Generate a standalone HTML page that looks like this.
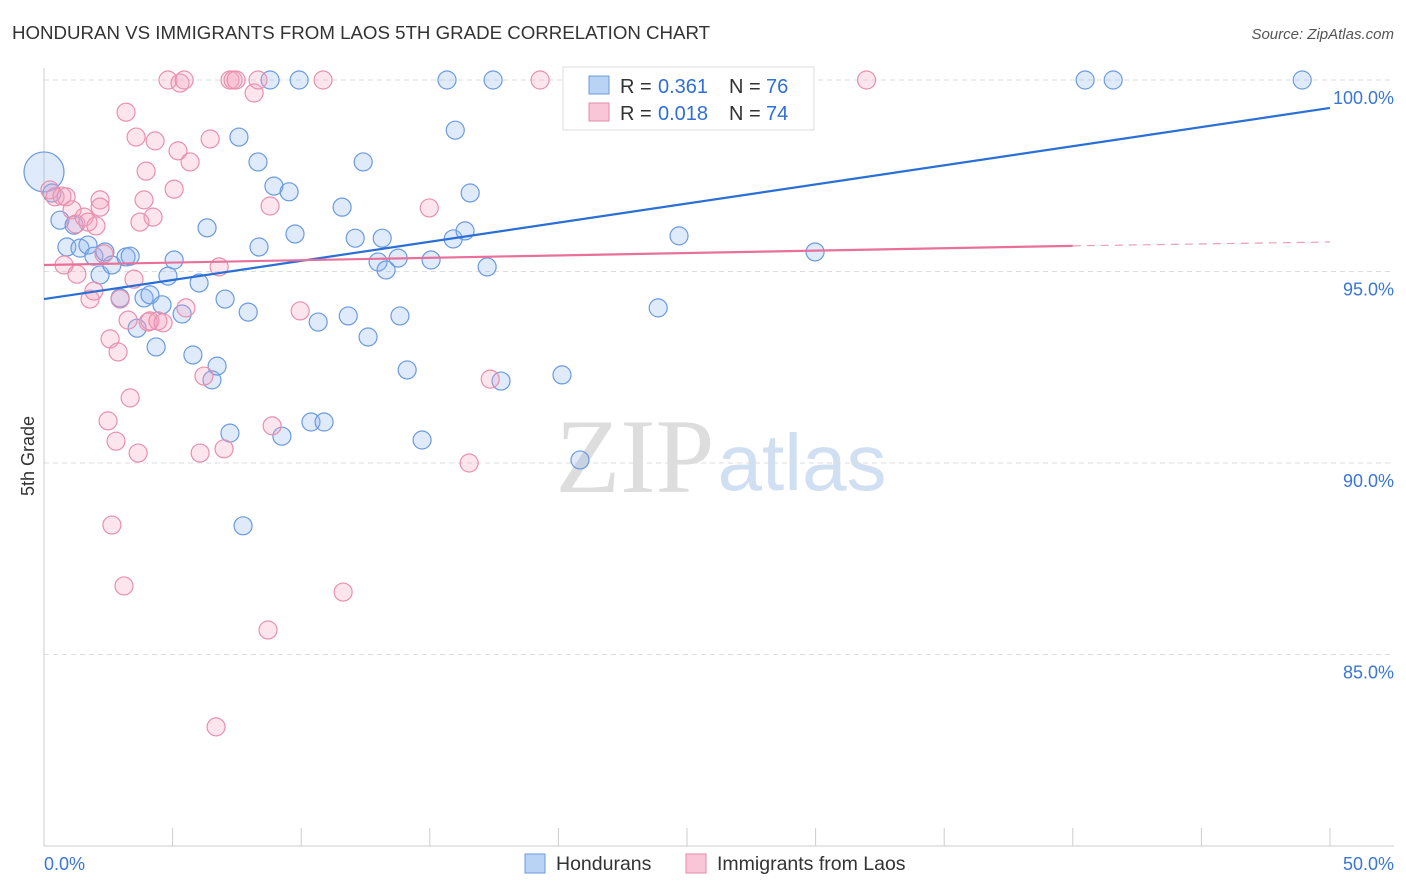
<!DOCTYPE html>
<html><head><meta charset="utf-8"><style>
body{margin:0;background:#fff;font-family:"Liberation Sans",sans-serif;}
</style></head><body>
<svg id="chart" width="1406" height="892" xmlns="http://www.w3.org/2000/svg" style="display:block">
<text x="12" y="39" font-size="18.7" fill="#333">HONDURAN VS IMMIGRANTS FROM LAOS 5TH GRADE CORRELATION CHART</text>
<text x="1394" y="39" font-size="15" fill="#555" font-style="italic" text-anchor="end">Source: ZipAtlas.com</text>
<text x="34" y="456" font-size="18" fill="#333" text-anchor="middle" transform="rotate(-90 34 456)">5th Grade</text>
<text x="635" y="492" font-size="106" fill="#ddd" font-family="Liberation Serif,serif" text-anchor="middle">ZIP</text>
<text x="802" y="490" font-size="80" fill="#d0dff2" text-anchor="middle">atlas</text>
<g id="grid"></g><g id="axes"></g><g id="pts"></g><g id="lines"></g>
<g>
<rect x="563" y="67" width="251" height="63" fill="#fff" stroke="#ddd"/>
<rect x="589" y="76" width="20" height="18" fill="#b9d3f5" stroke="#6a9ae0"/>
<text x="620" y="93" font-size="20" fill="#333">R =</text>
<text x="658" y="93" font-size="20" fill="#2f6fd6">0.361</text>
<text x="729" y="93" font-size="20" fill="#333">N =</text>
<text x="766" y="93" font-size="20" fill="#2f6fd6">76</text>
<rect x="589" y="103" width="20" height="18" fill="#f8c6d6" stroke="#e88aa8"/>
<text x="620" y="120" font-size="20" fill="#333">R =</text>
<text x="658" y="120" font-size="20" fill="#2f6fd6">0.018</text>
<text x="729" y="120" font-size="20" fill="#333">N =</text>
<text x="766" y="120" font-size="20" fill="#2f6fd6">74</text>
</g>
<g>
<rect x="525" y="854" width="20" height="19" fill="#b9d3f5" stroke="#6a9ae0"/>
<text x="556" y="870" font-size="19.5" fill="#333">Hondurans</text>
<rect x="686" y="854" width="20" height="19" fill="#f8c6d6" stroke="#e88aa8"/>
<text x="717" y="870" font-size="19.5" fill="#333">Immigrants from Laos</text>
</g>
</svg>
<script>
const xTicks=[0,5,10,15,20,25,30,35,40,45,50];
const yTicks=[85,90,95,100];
const yTickLabels=["85.0%","90.0%","95.0%","100.0%"];
const blueX=[0,0.31,0.62,0.89,1.17,1.40,1.71,1.94,2.18,2.37,2.64,2.96,3.19,3.35,3.62,3.89,4.12,4.36,4.59,4.82,5.06,5.37,5.79,6.03,6.34,6.53,6.73,7.04,7.23,7.58,7.74,7.94,8.32,8.36,8.79,8.94,9.25,9.53,9.76,9.92,10.38,10.66,10.89,11.59,11.83,12.10,12.41,12.60,12.99,13.15,13.30,13.77,13.84,14.12,14.70,15.05,15.67,15.91,15.99,16.37,16.57,17.23,17.46,17.77,20.14,20.84,23.88,24.69,25.04,28.23,29.98,40.48,41.57,48.92];
const blueY=[97.60,97.05,96.34,95.64,96.21,95.61,95.69,95.40,94.91,95.51,95.17,94.31,95.38,95.40,93.52,94.31,94.39,93.03,94.13,94.88,95.30,93.89,92.82,94.70,96.14,92.17,92.53,94.28,90.78,98.51,88.36,93.94,97.86,95.64,100,97.23,90.70,97.08,95.98,100,91.07,93.68,91.07,96.68,93.84,95.87,97.86,93.29,95.25,95.87,95.04,95.35,93.84,92.43,90.60,95.30,100,95.85,98.69,96.06,97.05,95.12,100,92.14,92.30,90.08,94.05,95.93,100,100,95.51,100,100,100];
const pinkX=[0.23,0.43,0.70,0.86,0.78,1.09,1.24,1.28,1.56,1.71,1.79,1.94,2.02,2.18,2.18,2.33,2.49,2.57,2.64,2.80,2.88,2.96,3.11,3.19,3.27,3.35,3.50,3.58,3.66,3.73,3.89,3.97,4.05,4.12,4.24,4.32,4.43,4.63,4.82,5.06,5.21,5.29,5.45,5.52,5.68,6.07,6.22,6.46,6.69,6.81,7.00,7.23,7.35,7.47,8.17,8.32,8.71,8.79,8.87,9.96,10.85,11.63,14.98,16.53,17.35,19.29,31.98];
const pinkY=[97.13,96.95,96.97,96.95,95.17,96.61,96.24,94.93,96.42,96.29,94.28,94.49,96.19,96.87,96.68,95.46,91.10,93.24,88.38,90.57,92.90,94.28,86.79,99.16,93.73,91.70,94.80,98.51,90.26,96.29,96.87,97.62,93.68,93.71,96.42,98.41,93.71,93.66,100,97.15,98.15,99.92,100,94.05,97.86,90.26,92.27,98.46,83.11,95.12,90.37,100,100,100,99.66,100,85.64,96.71,90.97,93.97,100,86.63,96.66,90.00,92.19,100,100];
const blueTrend=[[0,94.28],[50,99.27]];
const pinkTrend=[[0,95.17],[40,95.67]];
const pinkTrendExt=[[40,95.67],[50,95.77]];
const NS="http://www.w3.org/2000/svg";
const xs=v=>44+v/50*1286;
const ys=v=>80+(100-v)*38.3;
function mk(tag,attrs,parent){const e=document.createElementNS(NS,tag);for(const k in attrs)e.setAttribute(k,attrs[k]);document.getElementById(parent).appendChild(e);return e;}
yTicks.forEach((t,i)=>{
 const g=mk('line',{x1:44,x2:1394,y1:ys(t),y2:ys(t),stroke:'#ddd','stroke-dasharray':'5,4'},'grid');
 
 
 const l=mk('text',{x:1394,y:ys(t)+24,'font-size':18,fill:'#3a76d4','text-anchor':'end'},'axes');
 l.textContent=yTickLabels[i];
 
 
});
const ax=mk('line',{x1:44,x2:44,y1:68,y2:846,stroke:'#ccc'},'axes');


const bx=mk('line',{x1:44,x2:1394,y1:846,y2:846,stroke:'#ccc'},'axes');


xTicks.forEach(t=>{
 const k=mk('line',{x1:xs(t),x2:xs(t),y1:828,y2:846,stroke:'#ccc'},'axes');
 
 
});
const x0=mk('text',{x:44,y:870,'font-size':18,fill:'#3a76d4'},'axes');x0.textContent=xTicks[0].toFixed(1)+'%';


const x1=mk('text',{x:1394,y:870,'font-size':18,fill:'#3a76d4','text-anchor':'end'},'axes');x1.textContent=xTicks[xTicks.length-1].toFixed(1)+'%';


blueX.forEach((v,i)=>{
 const c=mk('circle',{cx:xs(v),cy:ys(blueY[i]),r:i===0?20:9,fill:'rgba(140,180,240,0.28)',stroke:'#6a9ae0','stroke-width':1.2},'pts');
 
 
});
pinkX.forEach((v,i)=>{
 const c=mk('circle',{cx:xs(v),cy:ys(pinkY[i]),r:9,fill:'rgba(245,160,190,0.28)',stroke:'#e890ae','stroke-width':1.2},'pts');
 
 
});
const bl=mk('line',{x1:xs(blueTrend[0][0]),y1:ys(blueTrend[0][1]),x2:xs(blueTrend[1][0]),y2:ys(blueTrend[1][1]),stroke:'#2a6fd6','stroke-width':2.2},'lines');


const pl=mk('line',{x1:xs(pinkTrend[0][0]),y1:ys(pinkTrend[0][1]),x2:xs(pinkTrend[1][0]),y2:ys(pinkTrend[1][1]),stroke:'#e8709a','stroke-width':2.2},'lines');


const pe=mk('line',{x1:xs(pinkTrendExt[0][0]),y1:ys(pinkTrendExt[0][1]),x2:xs(pinkTrendExt[1][0]),y2:ys(pinkTrendExt[1][1]),stroke:'#e8a0b8','stroke-width':1.2,'stroke-dasharray':'8,6'},'lines');


</script>
</body></html>
